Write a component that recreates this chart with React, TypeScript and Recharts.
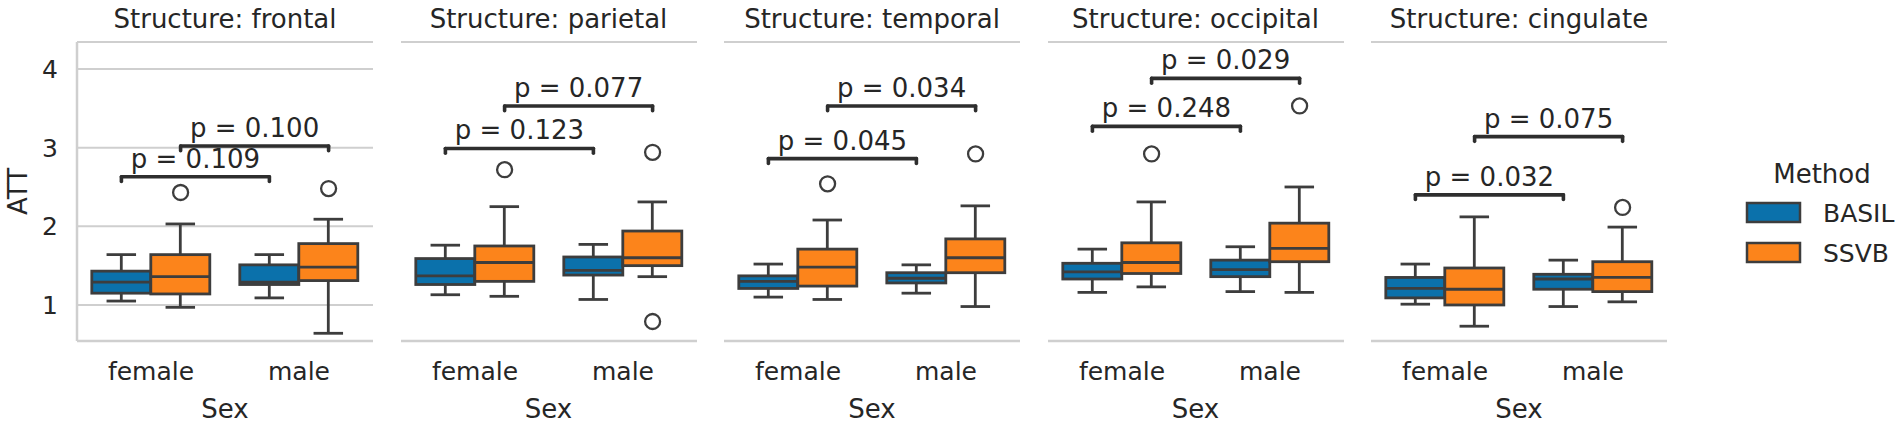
import * as React from 'react'
import {
  ComposedChart,
  Bar,
  XAxis,
  YAxis,
  CartesianGrid,
  ReferenceLine,
  ReferenceDot,
} from 'recharts'

// facets, categories and hue levels
const STRUCTURES = ['frontal', 'parietal', 'temporal', 'occipital', 'cingulate']
const SEXES = ['female', 'male']
const METHODS = ['BASIL', 'SSVB']

// box summaries per structure, [female, male], each [low whisker, q1, median, q3, high whisker]
const BASIL_BOXES = [
  [[1.05, 1.15, 1.29, 1.43, 1.64], [1.09, 1.26, 1.29, 1.51, 1.64]],
  [[1.13, 1.26, 1.37, 1.59, 1.76], [1.07, 1.38, 1.44, 1.61, 1.77]],
  [[1.10, 1.21, 1.30, 1.37, 1.52], [1.15, 1.28, 1.34, 1.41, 1.51]],
  [[1.16, 1.33, 1.42, 1.53, 1.71], [1.17, 1.36, 1.45, 1.57, 1.74]],
  [[1.01, 1.09, 1.21, 1.35, 1.52], [0.98, 1.20, 1.33, 1.39, 1.57]],
]
const SSVB_BOXES = [
  [[0.97, 1.14, 1.36, 1.64, 2.03], [0.64, 1.31, 1.48, 1.78, 2.09]],
  [[1.11, 1.30, 1.54, 1.75, 2.25], [1.36, 1.50, 1.60, 1.94, 2.31]],
  [[1.07, 1.24, 1.48, 1.71, 2.08], [0.98, 1.41, 1.60, 1.84, 2.26]],
  [[1.23, 1.40, 1.54, 1.79, 2.31], [1.16, 1.55, 1.72, 2.04, 2.50]],
  [[0.73, 1.00, 1.20, 1.47, 2.12], [1.04, 1.17, 1.35, 1.55, 1.99]],
]

// outliers per structure, [female, male]
const BASIL_OUTLIERS: number[][][] = [
  [[], []],
  [[], []],
  [[], []],
  [[], []],
  [[], []],
]
const SSVB_OUTLIERS: number[][][] = [
  [[2.43], [2.48]],
  [[2.72], [2.94, 0.79]],
  [[2.54], [2.92]],
  [[2.92], [3.53]],
  [[], [2.24]],
]

// female vs male annotations, one per method
const BASIL_P = ['0.109', '0.123', '0.045', '0.248', '0.032']
const BASIL_BRACKET_Y = [2.63, 2.99, 2.86, 3.27, 2.40]
const SSVB_P = ['0.100', '0.077', '0.034', '0.029', '0.075']
const SSVB_BRACKET_Y = [3.02, 3.53, 3.53, 3.88, 3.14]

const Y_TICKS = [1, 2, 3, 4]
const Y_MIN = 0.542
const Y_MAX = 4.343

const COLORS = ['#0b71ab', '#fc841b']
const EDGE = '#3d3d3d'
const GRID = '#cfcfcf'
const TEXT = '#262626'
const FONT = 'DejaVu Sans'
const LW = 2.8

const PANEL_LEFT = 77
const PANEL_STEP = 323.5
const PLOT_W = 296
const PLOT_TOP = 42
const PLOT_BOTTOM = 341
const CHART_H = 424
const Y_AXIS_W = 77
const X_AXIS_H = 50
const DODGE = 0.2
const TICK_LEN = 0.06

function WhiskerShape(props: any) {
  const { x, y, width, height } = props
  const cx = x + width / 2
  const cap = width / 4
  return (
    <g stroke={EDGE} strokeWidth={LW} fill="none">
      <line x1={cx} x2={cx} y1={y} y2={y + height} />
      <line x1={cx - cap} x2={cx + cap} y1={y} y2={y} />
      <line x1={cx - cap} x2={cx + cap} y1={y + height} y2={y + height} />
    </g>
  )
}

function BoxShape(props: any) {
  const { x, y, width, height, fill } = props
  return <rect x={x} y={y} width={width} height={height} fill={fill} stroke={EDGE} strokeWidth={LW} />
}

function MedianShape(props: any) {
  const { x, y, width } = props
  return <line x1={x} x2={x + width} y1={y} y2={y} stroke={EDGE} strokeWidth={LW} />
}

function Panel({ index }: { index: number }) {
  const first = index === 0
  const yw = first ? Y_AXIS_W : 0
  const left = PANEL_LEFT + index * PANEL_STEP - yw

  const rows = SEXES.map((sex, i) => ({
    sex,
    basil: BASIL_BOXES[index][i],
    ssvb: SSVB_BOXES[index][i],
  }))

  const outliers = [BASIL_OUTLIERS, SSVB_OUTLIERS].flatMap((set, m) =>
    SEXES.flatMap((_, i) =>
      set[index][i].map((v) => ({ x: i + (m === 0 ? -DODGE : DODGE), y: v })),
    ),
  )

  const brackets = [
    { off: -DODGE, y: BASIL_BRACKET_Y[index], p: BASIL_P[index] },
    { off: DODGE, y: SSVB_BRACKET_Y[index], p: SSVB_P[index] },
  ]

  const keys = ['basil', 'ssvb'] as const
  const bracketStyle = { stroke: '#2e2e2e', strokeWidth: 3.6, strokeLinecap: 'round' as const }

  return (
    <div style={{ position: 'absolute', left, top: 0 }}>
      <ComposedChart
        width={PLOT_W + yw}
        height={CHART_H}
        data={rows}
        margin={{ top: PLOT_TOP, right: 0, bottom: CHART_H - PLOT_BOTTOM - X_AXIS_H, left: 0 }}
        barGap={0}
        barCategoryGap="10%"
      >
        <CartesianGrid vertical={false} stroke={GRID} strokeWidth={2} xAxisId="box" />
        <XAxis
          xAxisId="box"
          dataKey="sex"
          height={X_AXIS_H}
          tickLine={false}
          tickSize={0}
          tickMargin={21}
          interval={0}
          axisLine={{ stroke: GRID, strokeWidth: 2.5 }}
          tick={{ fontSize: 25, fill: TEXT, fontFamily: FONT }}
        />
        <XAxis xAxisId="whisk" dataKey="sex" hide />
        <XAxis xAxisId="med" dataKey="sex" hide />
        <XAxis xAxisId="num" dataKey="pos" type="number" domain={[-0.5, 1.5]} allowDataOverflow hide />
        <YAxis
          type="number"
          domain={[Y_MIN, Y_MAX]}
          ticks={Y_TICKS}
          allowDataOverflow
          width={yw}
          tickLine={false}
          tickSize={0}
          tickMargin={19}
          axisLine={{ stroke: GRID, strokeWidth: 2.5 }}
          tick={first ? { fontSize: 25, fill: TEXT, fontFamily: FONT } : false}
        />
        {keys.map((k, m) => (
          <Bar
            key={`w-${k}`}
            xAxisId="whisk"
            dataKey={(d: any) => [d[k][0], d[k][4]]}
            fill={COLORS[m]}
            shape={WhiskerShape}
            isAnimationActive={false}
          />
        ))}
        {keys.map((k, m) => (
          <Bar
            key={`b-${k}`}
            xAxisId="box"
            dataKey={(d: any) => [d[k][1], d[k][3]]}
            fill={COLORS[m]}
            shape={BoxShape}
            isAnimationActive={false}
          />
        ))}
        {keys.map((k, m) => (
          <Bar
            key={`m-${k}`}
            xAxisId="med"
            dataKey={(d: any) => [d[k][1], d[k][2]]}
            fill={COLORS[m]}
            shape={MedianShape}
            isAnimationActive={false}
          />
        ))}
        {outliers.map((o, i) => (
          <ReferenceDot
            key={`o-${i}`}
            xAxisId="num"
            x={o.x}
            y={o.y}
            r={7.5}
            fill="none"
            stroke={EDGE}
            strokeWidth={2.3}
            ifOverflow="visible"
          />
        ))}
        {brackets.flatMap((b, i) => [
          <ReferenceLine
            key={`bl-${i}`}
            xAxisId="num"
            segment={[
              { x: b.off, y: b.y },
              { x: 1 + b.off, y: b.y },
            ]}
            {...bracketStyle}
            ifOverflow="visible"
            label={{ value: `p = ${b.p}`, position: 'top', offset: 9, fontSize: 26, fill: TEXT, fontFamily: FONT }}
          />,
          <ReferenceLine
            key={`bt1-${i}`}
            xAxisId="num"
            segment={[
              { x: b.off, y: b.y },
              { x: b.off, y: b.y - TICK_LEN },
            ]}
            {...bracketStyle}
            ifOverflow="visible"
          />,
          <ReferenceLine
            key={`bt2-${i}`}
            xAxisId="num"
            segment={[
              { x: 1 + b.off, y: b.y },
              { x: 1 + b.off, y: b.y - TICK_LEN },
            ]}
            {...bracketStyle}
            ifOverflow="visible"
          />,
        ])}
      </ComposedChart>
    </div>
  )
}

export default function App() {
  return (
    <div
      style={{
        position: 'absolute',
        left: 0,
        top: 0,
        width: 1902,
        height: CHART_H,
        background: '#ffffff',
        fontFamily: FONT,
        overflow: 'hidden',
      }}
    >
      {STRUCTURES.map((_, i) => (
        <Panel key={i} index={i} />
      ))}
      <svg
        width={1902}
        height={CHART_H}
        style={{ position: 'absolute', left: 0, top: 0, pointerEvents: 'none' }}
        fontFamily={FONT}
        fill={TEXT}
      >
        {STRUCTURES.map((s, i) => {
          const cx = PANEL_LEFT + i * PANEL_STEP + PLOT_W / 2
          return (
            <g key={s}>
              <text x={cx} y={28} textAnchor="middle" fontSize={26}>
                {`Structure: ${s}`}
              </text>
              <text x={cx} y={418} textAnchor="middle" fontSize={26}>
                Sex
              </text>
            </g>
          )
        })}
        <text
          x={27}
          y={(PLOT_TOP + PLOT_BOTTOM) / 2}
          textAnchor="middle"
          fontSize={26}
          transform={`rotate(-90 27 ${(PLOT_TOP + PLOT_BOTTOM) / 2})`}
        >
          ATT
        </text>
        <text x={1822} y={183} textAnchor="middle" fontSize={26}>
          Method
        </text>
        {METHODS.map((m, i) => (
          <g key={m}>
            <rect x={1747} y={203 + i * 40} width={53} height={19} fill={COLORS[i]} stroke={EDGE} strokeWidth={2.5} />
            <text x={1823} y={222 + i * 40} fontSize={25}>
              {m}
            </text>
          </g>
        ))}
      </svg>
    </div>
  )
}
